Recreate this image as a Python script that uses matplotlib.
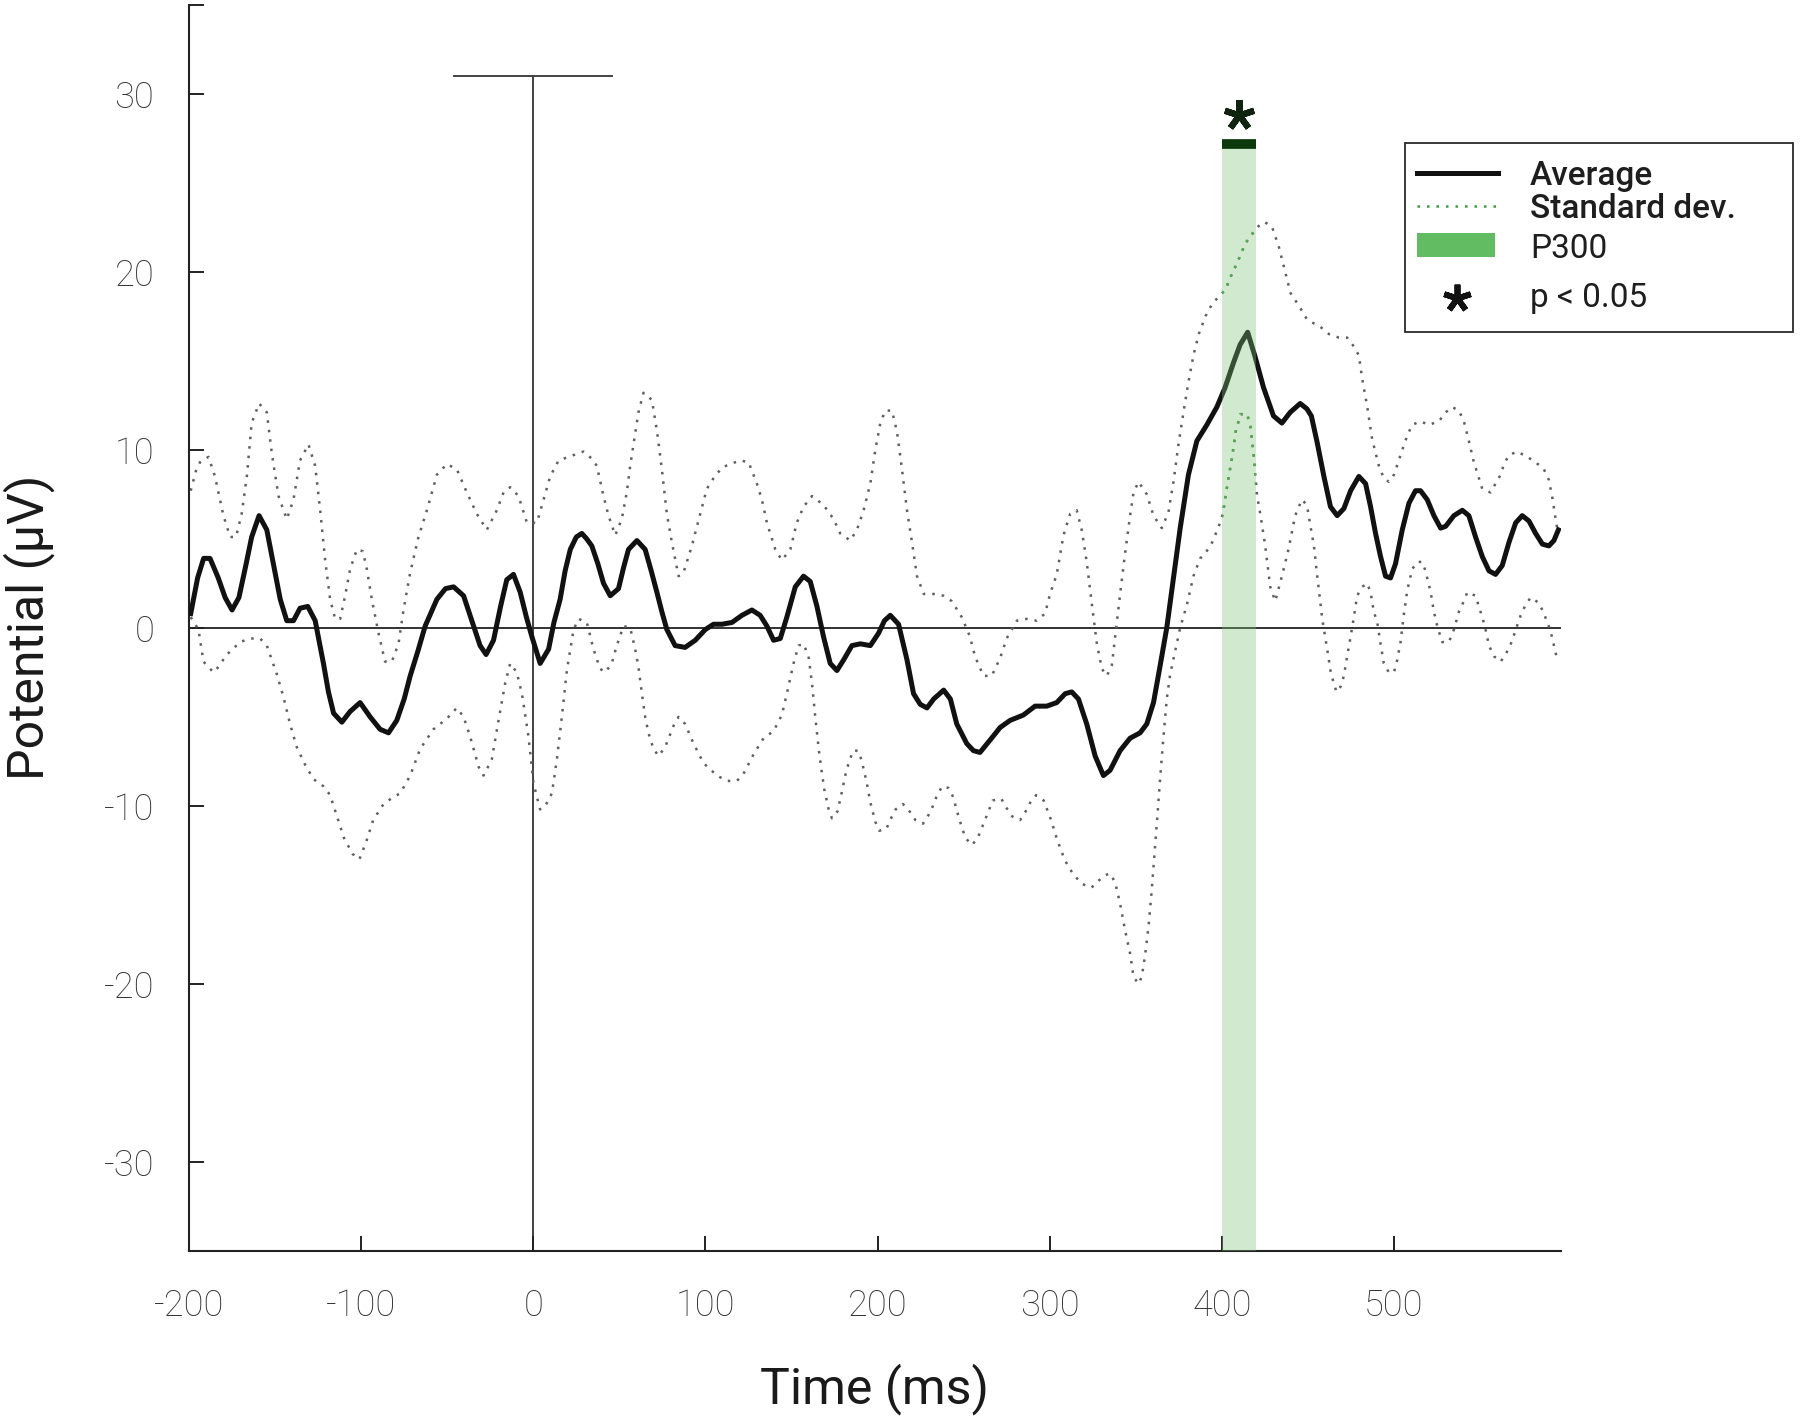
import matplotlib
matplotlib.use("Agg")
import matplotlib.pyplot as plt
from matplotlib.lines import Line2D
from matplotlib.patches import Rectangle
import numpy as np

# ---------------- data ----------------
time_mean = [-199, -195, -191.5, -187.8, -183, -179, -175, -171, -167, -163.6, -159.3, -154.8, -151, -147,
             -143.2, -139.3, -135.5, -131, -126.7, -121.9, -119, -116, -111.2, -106.4, -100.6, -94.8, -89,
             -84.1, -79.3, -75, -71.5, -67, -62.8, -56, -51, -46.3, -40.5, -34.7, -30.9, -27.4, -23.1, -19,
             -15.4, -11.5, -7.6, -4, -0.8, 4, 8.9, 12, 15.6, 18.5, 21.5, 25, 28.2, 31, 34, 37.5, 40.8, 44.7,
             49.5, 52.5, 55.3, 60.2, 65, 68.5, 71.8, 74.7, 77.6, 82.4, 88.2, 94.1, 99.9, 104.7, 109.6, 115.4,
             121.2, 127, 131.8, 135.7, 139.6, 143.5, 147.3, 152.2, 157, 160.9, 164.8, 168.6, 172.5, 176.4,
             180.3, 185.1, 190, 195.8, 200.6, 204, 207.4, 212.2, 217.1, 220.9, 224.8, 228.7, 232.6, 238.4,
             242.3, 246, 251.8, 255.7, 259.5, 265.4, 271.2, 277, 284.7, 291.5, 298.3, 304.1, 309, 312.8,
             316.7, 321.5, 326.4, 331.2, 335.1, 340.9, 346.7, 352.5, 356.4, 360.3, 364.2, 368, 371.9, 375.8,
             380.6, 385.5, 391.3, 397.1, 401.9, 406.8, 410.6, 415, 419.4, 424.2, 430, 434.9, 439.7, 445.5,
             449.4, 452, 455.4, 459.3, 463.1, 467, 470.9, 474.8, 479.6, 483.5, 486.4, 489.3, 492.2, 495.1,
             498, 500.9, 504.8, 508.7, 512.5, 515.4, 519.3, 523.2, 527.1, 530, 534.8, 539.7, 543.5, 547.4,
             551.3, 555.2, 559, 562.9, 566.8, 570.7, 574.5, 578.4, 582.3, 586.2, 590, 592.9, 595.5]
mean_uv = [0.8, 2.8, 3.9, 3.9, 2.8, 1.7, 1.0, 1.7, 3.5, 5.1, 6.3, 5.5, 3.6, 1.6,
           0.4, 0.4, 1.1, 1.2, 0.4, -2.0, -3.6, -4.8, -5.3, -4.7, -4.2, -5.0, -5.7,
           -5.9, -5.2, -4.0, -2.7, -1.3, 0.1, 1.6, 2.2, 2.3, 1.8, 0.1, -1.0, -1.5, -0.7, 1.2,
           2.7, 3.0, 2.0, 0.6, -0.5, -2.0, -1.2, 0.3, 1.6, 3.2, 4.4, 5.1, 5.3, 5.0, 4.6, 3.6, 2.5, 1.8,
           2.2, 3.4, 4.4, 4.9, 4.4, 3.2, 2.0, 0.9, -0.1, -1.0, -1.1, -0.7, -0.1, 0.2, 0.2, 0.3,
           0.7, 1.0, 0.7, 0.1, -0.7, -0.6, 0.6, 2.3, 2.9, 2.6, 1.2, -0.5, -2.0, -2.4,
           -1.8, -1.0, -0.9, -1.0, -0.3, 0.4, 0.7, 0.2, -1.8, -3.7, -4.3, -4.5, -4.0, -3.5,
           -4.0, -5.4, -6.5, -6.9, -7.0, -6.3, -5.6, -5.2, -4.9, -4.4, -4.4, -4.2, -3.7, -3.6,
           -4.0, -5.4, -7.2, -8.3, -8.0, -6.9, -6.2, -5.9, -5.4, -4.2, -2.1, 0.0, 2.8, 5.6,
           8.6, 10.5, 11.4, 12.4, 13.5, 14.9, 15.9, 16.6, 15.2, 13.5, 11.9, 11.5, 12.1, 12.6,
           12.3, 11.9, 10.4, 8.5, 6.8, 6.3, 6.7, 7.7, 8.5, 8.1, 6.8, 5.3, 4.0, 2.9,
           2.8, 3.6, 5.5, 7.0, 7.7, 7.7, 7.2, 6.3, 5.6, 5.7, 6.3, 6.6, 6.3, 5.1,
           4.0, 3.2, 3.0, 3.5, 4.8, 5.9, 6.3, 6.0, 5.3, 4.7, 4.6, 4.9, 5.5]

time_upper = [-199, -196, -193.6, -188.7, -184.9, -180, -176.1, -172.7, -169.4, -166.4, -163.6, -159.3, -154.8,
              -151.9, -148, -143.2, -139.3, -135.5, -130.6, -126.7, -123.8, -120.9, -118, -115.1, -112.2,
              -109.3, -106.4, -102.5, -99, -96.7, -93.8, -89.9, -86.1, -82.2, -78.3, -75.4, -71.5, -66.7,
              -61.8, -56, -50.2, -44.4, -38.6, -32.8, -27, -21.2, -17.3, -13.4, -8.6, -3.7, 2.1, 6, 9.8,
              14.7, 23.4, 29.2, 34, 36.9, 40.8, 43.7, 47.6, 51.4, 54.3, 56.3, 59.2, 61.1, 64, 68.9, 71.8,
              74.7, 77.6, 80.5, 84.4, 87.3, 92.1, 97, 100.8, 104.7, 109.6, 114.4, 120.2, 125.1, 129.9,
              132.8, 135.7, 140.6, 144.4, 149.3, 153.1, 157, 161.9, 168.6, 174.5, 178.3, 184.1, 188, 191.9,
              195.8, 198.7, 201.6, 204.5, 208.4, 211.3, 214.2, 217.1, 220, 222.9, 226.8, 232.6, 238.4,
              243.1, 248.9, 253.7, 256.6, 261.5, 266.3, 271.2, 275, 280.9, 286.7, 292.5, 297.3, 300.2,
              304.1, 308, 311.9, 315.7, 318.6, 321.5, 324.4, 327.4, 330.3, 333.2, 336.1, 338, 340.9, 343.8,
              346.7, 348.7, 351.6, 356.4, 360.3, 365.1, 369, 371.9, 374.8, 377.7, 380.6, 383.5, 386.6,
              390.5, 394.4, 398.2, 402.1, 405.5, 408.9, 413.7, 420.5, 424.8, 429.2, 433.1, 436, 439.9,
              444.7, 449.6, 457.3, 462.2, 468, 472.8, 476.7, 479.6, 481.5, 484.5, 487.3, 491.2, 494.1,
              497, 500, 503.8, 507.7, 510.6, 515.4, 520.3, 526.1, 530, 533.8, 537.7, 540.6, 543.5, 546.4,
              548.4, 551.3, 556.1, 559, 562, 563.9, 566.8, 571.6, 577.4, 582.3, 587.1, 590, 592, 593.9, 595]
upper_uv = [7.7, 8.8, 9.3, 9.6, 8.5, 6.3, 5.1, 5.1, 6.4, 8.5, 11.5, 12.6, 12.1,
            9.8, 7.4, 6.1, 7.2, 9.4, 10.3, 9.1, 6.6, 3.8, 1.6, 0.5, 0.5,
            1.8, 3.3, 4.4, 4.3, 3.3, 1.6, -0.3, -1.9, -1.9, -0.9, 1.0, 3.1, 5.1,
            6.6, 8.6, 9.2, 8.9, 7.6, 6.4, 5.5, 6.6, 7.6, 7.9, 7.4, 5.9, 5.9, 7.2, 8.5,
            9.4, 9.7, 9.9, 9.5, 9.1, 7.4, 6.3, 5.2, 6.1, 7.6, 9.1, 10.9, 12.1, 13.2, 12.8, 11.1,
            8.9, 6.4, 4.8, 2.9, 3.1, 4.6, 6.4, 7.8, 8.4, 9.0, 9.2, 9.4, 9.3, 8.1,
            7.2, 5.9, 4.4, 3.8, 4.4, 5.9, 6.8, 7.4, 6.9, 6.1, 5.3, 4.9, 5.5, 6.6,
            8.1, 10.0, 11.5, 12.2, 12.2, 11.0, 8.9, 6.6, 4.8, 2.9, 1.9, 1.9, 1.8,
            1.5, 0.6, -0.5, -1.6, -2.7, -2.7, -1.7, -0.6, 0.4, 0.5, 0.4, 0.8, 1.9,
            3.0, 5.2, 6.4, 6.6, 5.5, 3.7, 1.4, -0.9, -2.3, -2.7, -2.1, -0.5, 1.9, 4.2,
            6.3, 7.6, 8.2, 7.5, 6.3, 5.6, 6.5, 8.2, 10.3, 12.1, 13.8, 15.3, 16.5,
            17.5, 18.2, 18.6, 19.0, 19.8, 20.5, 21.6, 22.5, 22.8, 22.5, 21.4, 20.3, 18.8,
            18.1, 17.3, 16.9, 16.5, 16.3, 16.3, 15.8, 15.3, 14.0, 12.4, 10.6, 9.1, 8.4,
            8.2, 8.6, 9.7, 10.8, 11.4, 11.6, 11.4, 11.6, 12.1, 12.4, 12.2, 11.6, 10.5, 9.3,
            8.7, 7.8, 7.6, 8.1, 8.6, 9.2, 9.7, 9.9, 9.6, 9.3, 8.9, 8.3, 7.3, 6.1, 5.5]

time_lower = [-199, -194.5, -191.6, -185.8, -182, -179, -170.3, -164.5, -158.7, -154.8, -149, -145.1, -141.3,
              -137.4, -132.5, -127.7, -121.9, -118, -110, -105, -101, -97, -93, -87, -81.2, -77.3, -71.5,
              -65.7, -58, -50.2, -44.4, -40.5, -36.7, -31.8, -28.9, -24.1, -20.2, -16.3, -13.4, -9.6,
              -6.6, -2.8, 0.1, 2.1, 4, 7, 10.8, 13.7, 16.6, 19.5, 23.4, 26.3, 31.1, 35, 38.8, 41.8, 45.6,
              48.5, 52.4, 56.3, 59.2, 61.1, 63.1, 65, 66.9, 69.8, 72.8, 76.6, 81.5, 84.4, 88.2, 93.1, 98.9,
              106.7, 112.5, 118.3, 122.1, 128, 133.8, 139.6, 144.4, 147.3, 151.2, 154.1, 157, 159.9, 161.9,
              163.8, 165.8, 167.3, 169.1, 171.6, 173.5, 176.8, 179.3, 181.9, 185.7, 188.6, 190.6, 193.5,
              195.8, 198.7, 201, 205.1, 207.8, 210.5, 214.8, 218.5, 222, 226.4, 229.7, 232.2, 234.2, 237.5,
              241.3, 243.9, 247.3, 251, 254.9, 258.2, 262.4, 266.9, 271.9, 274.8, 278.3, 282.8, 286.1,
              288.8, 292.1, 296.5, 300.8, 304.3, 308.6, 311.3, 315.1, 319.2, 324.2, 328.5, 332, 335.1, 338,
              340.9, 343.8, 346.7, 348.7, 351.6, 353.5, 355.4, 357.4, 359.3, 361.2, 362.6, 364.2, 366.1,
              368, 370, 372.9, 375.8, 379.7, 383.5, 387.4, 390.5, 394.4, 398.2, 400.6, 402.5, 404, 406, 408,
              410.8, 414.7, 416.6, 418.6, 419.5, 420.5, 422.5, 425.2, 428.1, 431, 434.9, 438.7, 442.6,
              446.5, 449.4, 451.5, 453.5, 455.4, 456.9, 458.3, 461.2, 463.1, 464.7, 466.6, 469, 470.9,
              472.8, 474.8, 476.7, 478.6, 481.5, 484.4, 486.4, 488.3, 490.3, 492.2, 494.1, 497, 500, 501.9,
              503.8, 505.8, 507.7, 510.6, 513.5, 516.4, 518.3, 521.3, 523.2, 525.1, 528, 531.9, 534.8,
              537.7, 540.6, 542.6, 547.4, 549.3, 551.3, 553.2, 555.2, 558.1, 562, 564.8, 567.7, 569.7,
              573.6, 576.5, 579.4, 584.2, 587.1, 589.1, 591, 593.9, 595]
lower_uv = [0.6, -0.1, -1.9, -2.5, -2.1, -1.6, -0.8, -0.6, -0.6, -1.0, -2.6, -3.9, -5.4,
            -6.7, -7.7, -8.5, -8.9, -9.4, -11.8, -12.7, -13.0, -12.0, -10.8, -9.9, -9.5, -9.3, -8.3,
            -6.8, -5.7, -5.1, -4.5, -5.0, -6.1, -7.8, -8.3, -7.4, -5.2, -3.1, -2.0, -2.5,
            -3.7, -6.1, -8.7, -9.5, -10.2, -10.0, -9.3, -7.4, -5.0, -2.4, -0.1, 0.5, 0.3, -1.2, -2.3, -2.5, -2.0,
            -1.0, 0.1, 0.0, -1.2, -2.2, -3.7, -5.0, -5.9, -6.8, -7.2, -6.7, -5.5, -5.0, -5.4, -6.5, -7.6,
            -8.3, -8.6, -8.6, -8.2, -7.1, -6.2, -5.8, -4.9, -3.7, -2.0, -1.0, -0.9, -1.6, -3.1,
            -5.0, -6.8, -7.9, -9.1, -10.2, -10.7, -10.3, -9.2, -8.0, -6.9, -6.9, -7.4, -8.6,
            -9.8, -10.9, -11.4, -11.3, -10.7, -10.2, -9.9, -10.3, -10.8, -11.0, -10.5, -10.0, -9.5, -8.9,
            -9.0, -9.5, -10.7, -11.8, -12.2, -11.8, -10.8, -9.7, -9.6, -10.1, -10.6, -10.8, -10.3,
            -9.8, -9.4, -9.7, -10.8, -11.9, -13.0, -13.5, -14.0, -14.4, -14.6, -14.2, -13.9, -13.8, -14.3,
            -15.5, -17.0, -18.3, -19.6, -20.0, -19.6, -18.4, -16.8, -14.7, -12.3, -10.5, -8.4, -6.1,
            -4.0, -2.6, -1.3, 0.0, 1.3, 2.9, 3.9, 4.2, 4.8, 5.7, 6.4, 7.6, 8.5, 9.6, 11.0,
            12.0, 12.0, 11.3, 9.6, 8.5, 7.4, 6.3, 4.6, 2.3, 1.5, 2.9, 4.4, 6.3,
            7.2, 6.9, 5.7, 4.6, 2.9, 1.7, 0.5, -1.2, -2.4, -3.0, -3.6, -3.3, -2.7,
            -1.6, -0.5, 0.6, 1.8, 2.3, 2.5, 2.0, 0.9, 0.3, -0.9, -2.0, -2.5, -2.5, -1.8,
            -0.8, 0.8, 2.1, 3.3, 3.7, 3.7, 3.2, 2.0, 0.9, 0.1, -0.8, -0.8, -0.1,
            0.9, 1.5, 2.0, 1.8, 1.2, 0.6, -0.1, -1.0, -1.6, -1.9, -1.5, -0.95, -0.4,
            0.7, 1.3, 1.7, 1.4, 0.8, 0.3, -0.2, -1.4, -1.9]

xticks = [-200, -100, 0, 100, 200, 300, 400, 500]
yticks = [-30, -20, -10, 0, 10, 20, 30]
p300_window = (400, 420)
sig_level = 27.2
stim_top = 31.0
stim_half_width = 46
xlim = (-200, 597)
ylim = (-35, 35)
legend_labels = ["Average", "Standard dev.", "P300", "p < 0.05"]

# ---------------- style ----------------
plt.rcParams['font.family'] = ['Roboto', 'DejaVu Sans']
TICK_COL = '#333333'
SD_COL = '#5e5e5e'
GREEN_DOT = '#3d9a3d'
BAND_COL = '#7cc576'

fig = plt.figure(figsize=(18, 14.17), dpi=100)
ax = fig.add_axes([0.105, 0.1172, 0.7622, 0.8795])

# zero line and stimulus marker
ax.axhline(0, color='#222222', lw=1.3, zorder=1)
ax.plot([0, 0], [ylim[0], stim_top], color='#333333', lw=1.3, zorder=1)
ax.plot([-stim_half_width, stim_half_width], [stim_top, stim_top], color='#444444', lw=1.4, zorder=1)

# SD and mean
dot_style = (0, (1, 2.8))
SD_LW = 1.8
ax.plot(time_upper, upper_uv, color=SD_COL, lw=SD_LW, linestyle=dot_style, zorder=2)
ax.plot(time_lower, lower_uv, color=SD_COL, lw=SD_LW, linestyle=dot_style, zorder=2)
ax.plot(time_mean, mean_uv, color='#111111', lw=3.6, zorder=3, solid_joinstyle='round')

# P300 band (drawn over the traces, semi-transparent)
band_clip = Rectangle((p300_window[0], ylim[0]), p300_window[1] - p300_window[0], sig_level - ylim[0],
                      transform=ax.transData, facecolor='none', edgecolor='none')
ax.add_patch(band_clip)
for tt, vv in ((time_upper, upper_uv), (time_lower, lower_uv)):
    ln, = ax.plot(tt, vv, color=GREEN_DOT, lw=SD_LW, linestyle=dot_style, zorder=4)
    ln.set_clip_path(band_clip)
ax.fill_between(list(p300_window), [ylim[0]] * 2, [sig_level] * 2, color=BAND_COL, alpha=0.35,
                lw=0, zorder=5)
ax.plot(list(p300_window), [sig_level, sig_level], color='#0c3a0c', lw=7, solid_capstyle='butt', zorder=6)
ax.plot([np.mean(p300_window)], [sig_level + 1.6], marker=(5, 2, 0), ms=22, mew=4.5,
        color='#0f240f', zorder=6, clip_on=False)

# axes formatting
ax.set_xlim(*xlim)
ax.set_ylim(*ylim)
ax.spines['top'].set_visible(False)
ax.spines['right'].set_visible(False)
for s in ('left', 'bottom'):
    ax.spines[s].set_linewidth(1.5)
    ax.spines[s].set_color('#222222')
ax.set_xticks(xticks)
ax.set_xticklabels([str(v) for v in xticks])
ax.set_yticks(yticks + [ylim[1]])
ax.set_yticklabels([str(v) for v in yticks] + [''])
ax.tick_params(axis='both', direction='in', length=11, width=1.4, color='#222222',
               labelsize=26, labelcolor=TICK_COL)
ax.tick_params(axis='x', pad=27)
ax.tick_params(axis='y', pad=25)
for lab in ax.get_xticklabels() + ax.get_yticklabels():
    lab.set_fontweight('light')

ax.set_xlabel('Time (ms)', fontsize=36, color='#1a1a1a')
ax.xaxis.set_label_coords(0.5, -(1389 - 1251) / 1246)
ax.xaxis.label.set_va('center')
ax.set_ylabel('Potential (µV)', fontsize=36, color='#1a1a1a')
ax.yaxis.set_label_coords(-(189 - 29) / 1372, 0.5)
ax.yaxis.label.set_va('center')

# ---------------- legend (manual, figure pixel layout) ----------------
W, H = 1800, 1417
def fx(px):
    return px / W
def fy(py):
    return 1 - py / H

fig.patches.append(Rectangle((fx(1405), fy(332)), fx(1793) - fx(1405), fy(143) - fy(332),
                             transform=fig.transFigure, facecolor='white', edgecolor='#2a2a2a',
                             lw=1.3, zorder=10))
fig.lines.append(Line2D([fx(1417), fx(1498)], [fy(173), fy(173)], transform=fig.transFigure,
                        color='#111111', lw=3.6, zorder=11))
fig.lines.append(Line2D([fx(1417), fx(1498)], [fy(206), fy(206)], transform=fig.transFigure,
                        color=GREEN_DOT, lw=SD_LW, linestyle=dot_style, zorder=11))
fig.patches.append(Rectangle((fx(1417), fy(257)), fx(1495) - fx(1417), fy(233) - fy(257),
                             transform=fig.transFigure, facecolor='#62bd62', edgecolor='none', zorder=11))
fig.lines.append(Line2D([fx(1457)], [fy(298)], transform=fig.transFigure, marker=(5, 2, 0),
                        ms=20, mew=4.2, color='#111111', zorder=11))
text_y = [172, 206, 245, 295]
weights = ['medium', 'medium', 'normal', 'normal']
for lab, ty, wt in zip(legend_labels, text_y, weights):
    fig.text(fx(1530), fy(ty), lab, fontsize=24, fontweight=wt, color='#1e1e1e',
             ha='left', va='center_baseline', zorder=12)

fig.savefig('out.png', dpi=100, facecolor='white')
